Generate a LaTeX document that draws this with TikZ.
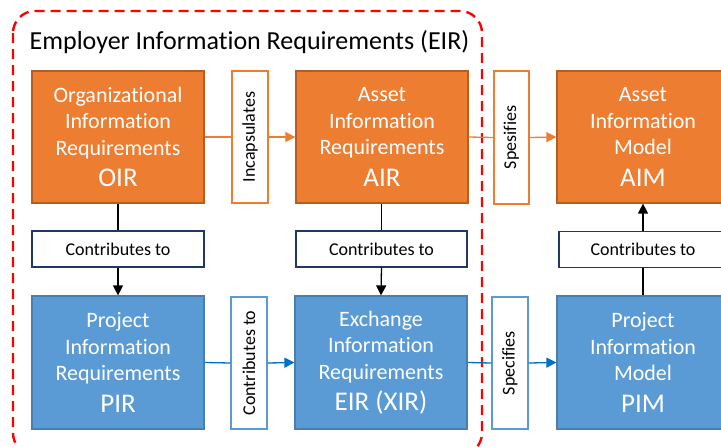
\documentclass[tikz,border=0pt]{standalone}
\usepackage{fontspec}
\setmainfont{Carlito}[Ligatures=NoCommon]
\usetikzlibrary{arrows.meta}
\definecolor{orfill}{HTML}{ED7D31}
\definecolor{ordraw}{HTML}{B85D22}
\definecolor{blfill}{HTML}{5B9BD5}
\definecolor{bldraw}{HTML}{4A7EB0}
\definecolor{blline}{HTML}{0070C0}
\definecolor{navy}{HTML}{203864}
\definecolor{eirred}{HTML}{FF0000}
\tikzset{
  bigbox/.style={inner sep=0pt, minimum width=172pt, minimum height=132pt, line width=1.2pt,
    text=white, align=center, font=\fontsize{22}{26.5}\selectfont},
  orbox/.style={bigbox, fill=orfill, draw=ordraw},
  blbox/.style={bigbox, fill=blfill, draw=bldraw},
  vlabel/.style={inner sep=0pt, minimum width=132pt, minimum height=36pt, rotate=90, fill=white,
    line width=1.2pt, font=\fontsize{18}{21}\selectfont},
  hlabel/.style={inner sep=0pt, minimum width=172pt, minimum height=36pt, fill=white, draw=navy,
    line width=1.2pt, font=\fontsize{18}{21}\selectfont},
  orarrow/.style={draw=orfill, line width=1.3pt},
  blarrow/.style={draw=blline, line width=1.3pt},
  blkarrow/.style={draw=black, line width=1.3pt},
  tip/.style={-{Triangle[length=10pt,width=10pt]}}
}
\newcommand{\abbrtxt}[1]{\\[5pt]{\fontsize{27}{30}\selectfont #1}}
\begin{document}
\begin{tikzpicture}[x=1pt,y=-1pt]
\useasboundingbox (0,0) rectangle (721,447);
\clip (0,0) rectangle (721,447);
% dashed EIR frame
\draw[eirred, line width=2.4pt, dash pattern=on 10pt off 6pt, rounded corners=22pt]
  (13,11) rectangle (482,455);
\node[font=\fontsize{26}{30}\selectfont, anchor=center] (title) at (249.5,42) {Employer Information Requirements (EIR)};
% top row
\node[orbox] (OIR) at (118,137) {Organizational\\Information\\Requirements\abbrtxt{OIR}};
\node[vlabel, draw=orfill] (inc) at (250,137) {Incapsulates};
\node[orbox] (AIR) at (382,137) {Asset\\Information\\Requirements\abbrtxt{AIR}};
\node[vlabel, draw=orfill, minimum width=133pt, minimum height=35pt] (spes) at (511.5,137.5) {Spesifies};
\node[orbox] (AIM) at (643,137) {Asset\\Information\\Model\abbrtxt{AIM}};
% middle labels
\node[hlabel] (c1) at (118,249) {Contributes to};
\node[hlabel, minimum width=171pt] (c2) at (381.5,249) {Contributes to};
\node[hlabel, minimum width=168pt] (c3) at (643,249.5) {Contributes to};
% bottom row
\node[blbox, minimum height=133pt] (PIR) at (118,362.5) {Project\\Information\\Requirements\abbrtxt{PIR}};
\node[vlabel, draw=blfill] (cont) at (249,363) {Contributes to};
\node[blbox, minimum height=133pt] (XIR) at (381,362.5) {Exchange\\Information\\Requirements\abbrtxt{EIR (XIR)}};
\node[vlabel, draw=blfill] (spec) at (510,363) {Specifies};
\node[blbox, minimum height=133pt] (PIM) at (643,362.5) {Project\\Information\\Model\abbrtxt{PIM}};
% connectors
\draw[orarrow] (OIR.east) -- (inc.north);
\draw[orarrow, tip, fill=orfill] (inc.south) -- (AIR.west);
\draw[orarrow] (AIR.east) -- (spes.north);
\draw[orarrow, tip, fill=orfill] (spes.south) -- (AIM.west);
\draw[blarrow] (PIR.east) -- (cont.north);
\draw[blarrow, tip, fill=blline] (cont.south) -- (XIR.west);
\draw[blarrow] (XIR.east) -- (spec.north);
\draw[blarrow, tip, fill=blline] (spec.south) -- (PIM.west);
\draw[blkarrow] (OIR.south) -- (c1.north);
\draw[blkarrow, tip] (c1.south) -- (PIR.north);
\draw[blkarrow] (AIR.south -| c2.north) -- (c2.north);
\draw[blkarrow, tip] (c2.south) -- (XIR.north);
\draw[blkarrow] (PIM.north) -- (c3.south);
\draw[blkarrow, tip] (c3.north) -- (AIM.south);
\end{tikzpicture}
\end{document}
